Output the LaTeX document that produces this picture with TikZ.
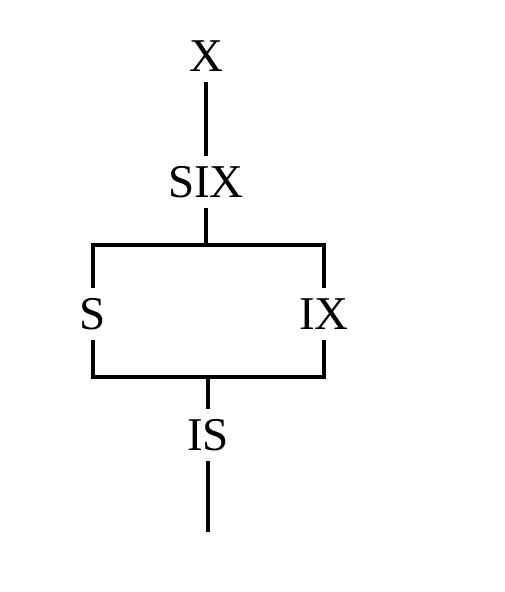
\documentclass[tikz,border=0pt]{standalone}
\usepackage{fontspec}
\setmainfont{Liberation Serif}
\usepackage{tikz}
\usetikzlibrary{calc}

\begin{document}
\begin{tikzpicture}[x=0.5pt,y=-0.5pt,line width=1.75pt,
  lock node/.style={inner xsep=0pt,inner ysep=4.5pt,text height=15.4pt,text depth=0pt,font=\fontsize{23.5}{28}\selectfont}]
  \useasboundingbox (0,0) rectangle (504,592);
  \node[lock node] (X) at (206,56) {X};
  \node[lock node] (SIX) at (206,182) {SIX} edge (X);
  \node[lock node] (S) at (93,314) {S};
  \node[lock node] (IX) at (324,314) {IX};
  \node[lock node] (IS) at (208,435) {IS};
  \coordinate (split) at (206,245);
  \coordinate (join) at (208,377);
  \coordinate (bottom) at (208,532);
  \draw (SIX) -- (split);
  \draw (S.north) |- (split) -| (IX.north);
  \draw (S.south) |- (join) -| (IX.south);
  \draw (join) -- (IS);
  \draw (IS) -- (bottom);

\end{tikzpicture}
\end{document}
